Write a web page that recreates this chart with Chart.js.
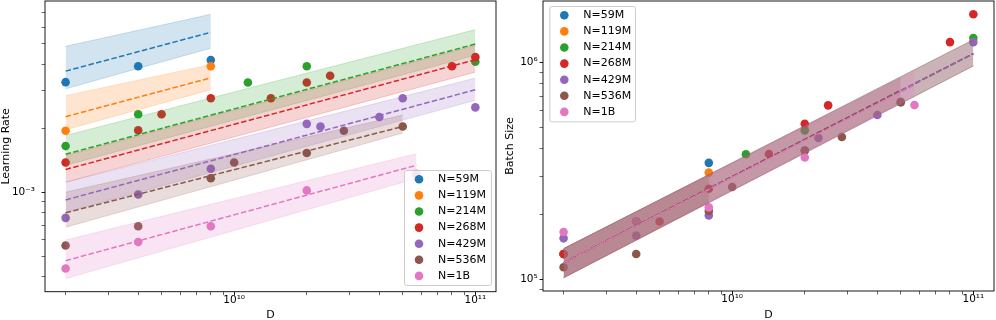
<!DOCTYPE html>
<html lang="en">
<head>
    <meta charset="UTF-8">
    <title>Learning rate and batch size vs D</title>
    <script src="https://cdn.jsdelivr.net/npm/chart.js"></script>
    <style>
        body { margin: 0; background: #fff; }
        #wrap { position: relative; width: 996px; height: 320px; }
        canvas { position: absolute; top: 0; }
        #lrChart { left: 0; }
        #bsChart { left: 498px; }
    </style>
</head>
<body>
    <div id="wrap">
        <canvas id="lrChart" width="498" height="320"></canvas>
        <canvas id="bsChart" width="498" height="320"></canvas>
    </div>

    <script>
        const seriesNames = ['N=59M', 'N=119M', 'N=214M', 'N=268M', 'N=429M', 'N=536M', 'N=1B'];
        const seriesColors = ['#1f77b4', '#ff7f0e', '#2ca02c', '#d62728', '#9467bd', '#8c564b', '#e377c2'];

        // token count D of every run, one list per model size
        const runD = [
            [2e9, 4e9, 8e9],
            [2e9, 8e9],
            [2e9, 4e9, 1.14e10, 2e10, 1e11],
            [2e9, 4e9, 5e9, 8e9, 1.42e10, 2e10, 2.5e10, 8e10, 1e11],
            [2e9, 4e9, 8e9, 2e10, 2.28e10, 4e10, 5e10, 1e11],
            [2e9, 4e9, 8e9, 1e10, 2e10, 2.85e10, 5e10],
            [2e9, 4e9, 8e9, 2e10, 5.7e10]
        ];
        const runLR = [
            [3.30e-3, 3.92e-3, 4.20e-3],
            [1.95e-3, 3.92e-3],
            [1.65e-3, 2.33e-3, 3.29e-3, 3.92e-3, 4.12e-3],
            [1.38e-3, 1.96e-3, 2.33e-3, 2.77e-3, 2.77e-3, 3.29e-3, 3.54e-3, 3.92e-3, 4.33e-3],
            [0.757e-3, 0.976e-3, 1.29e-3, 2.10e-3, 2.04e-3, 2.26e-3, 2.77e-3, 2.51e-3],
            [0.561e-3, 0.691e-3, 1.164e-3, 1.38e-3, 1.53e-3, 1.95e-3, 2.04e-3],
            [0.437e-3, 0.583e-3, 0.691e-3, 1.02e-3, 1.22e-3]
        ];
        const runBS = [
            [1.31e5, 1.85e5, 3.45e5],
            [1.31e5, 3.11e5],
            [1.31e5, 1.85e5, 3.78e5, 4.87e5, 1.297e6],
            [1.31e5, 1.85e5, 1.85e5, 2.62e5, 3.79e5, 5.22e5, 6.35e5, 1.243e6, 1.672e6],
            [1.548e5, 1.593e5, 1.975e5, 3.93e5, 4.49e5, 5.73e5, 6.57e5, 1.243e6],
            [1.139e5, 1.31e5, 2.07e5, 2.67e5, 3.93e5, 4.54e5, 6.57e5],
            [1.656e5, 1.853e5, 2.15e5, 3.65e5, 6.37e5]
        ];

        // fitted power laws: D at both ends, fit value and band edges there
        const fitD = [[2e9, 8e9], [2e9, 8e9], [2e9, 1e11], [2e9, 1e11], [2e9, 1e11], [2e9, 5e10], [2e9, 5.7e10]];
        const lrFit = [[3.72e-3, 5.67e-3], [2.27e-3, 3.46e-3], [1.51e-3, 4.99e-3], [1.28e-3, 4.21e-3], [0.92e-3, 3.04e-3], [0.80e-3, 2.04e-3], [0.476e-3, 1.34e-3]];
        const lrHigh = [[4.87e-3, 6.89e-3], [2.85e-3, 3.99e-3], [1.85e-3, 5.84e-3], [1.49e-3, 4.92e-3], [1.115e-3, 3.45e-3], [1.0e-3, 2.31e-3], [0.596e-3, 1.52e-3]];
        const lrLow = [[3.07e-3, 4.77e-3], [1.97e-3, 3.04e-3], [1.34e-3, 4.42e-3], [1.115e-3, 3.68e-3], [0.805e-3, 2.71e-3], [0.684e-3, 1.90e-3], [0.392e-3, 1.16e-3]];
        const bsFit = [[1.193e5, 2.63e5], [1.193e5, 2.63e5], [1.193e5, 1.10e6], [1.193e5, 1.10e6], [1.193e5, 1.10e6], [1.193e5, 7.46e5], [1.193e5, 7.87e5]];
        const bsHigh = [[1.388e5, 3.03e5], [1.388e5, 3.03e5], [1.388e5, 1.275e6], [1.388e5, 1.275e6], [1.388e5, 1.275e6], [1.388e5, 8.5e5], [1.388e5, 9.1e5]];
        const bsLow = [[1.018e5, 2.27e5], [1.018e5, 2.27e5], [1.018e5, 9.65e5], [1.018e5, 9.65e5], [1.018e5, 9.65e5], [1.018e5, 6.55e5], [1.018e5, 6.97e5]];

        // axes
        const dRange = [1.643e9, 1.218e11];
        const lrRange = [3.40e-4, 7.96e-3];
        const bsRange = [8.85e4, 1.923e6];
        const dTicks = [2e9, 3e9, 4e9, 5e9, 6e9, 7e9, 8e9, 9e9, 1e10, 2e10, 3e10, 4e10, 5e10, 6e10, 7e10, 8e10, 9e10, 1e11];
        const dMajor = [1e10, 1e11];
        const dMajorText = ['10¹⁰', '10¹¹'];
        const lrTicks = [4e-4, 5e-4, 6e-4, 7e-4, 8e-4, 9e-4, 1e-3, 2e-3, 3e-3, 4e-3, 5e-3, 6e-3, 7e-3];
        const lrMajor = [1e-3];
        const lrMajorText = ['10⁻³'];
        const bsTicks = [9e4, 1e5, 2e5, 3e5, 4e5, 5e5, 6e5, 7e5, 8e5, 9e5, 1e6];
        const bsMajor = [1e5, 1e6];
        const bsMajorText = ['10⁵', '10⁶'];

        Chart.defaults.font.family = '"DejaVu Sans", sans-serif';
        Chart.defaults.color = '#000';

        function fade(hex, a) {
            const n = parseInt(hex.slice(1), 16);
            return `rgba(${n >> 16}, ${(n >> 8) & 255}, ${n & 255}, ${a})`;
        }
        const pts = (xs, ys) => xs.map((x, k) => ({x: x, y: ys[k]}));

        function buildDatasets(vals, fit, high, low) {
            const ds = [];
            // matplotlib order: all points, then all bands, then the dashed fits on top
            seriesNames.forEach((name, i) => ds.push({
                type: 'scatter', label: name, data: pts(runD[i], vals[i]),
                backgroundColor: seriesColors[i], pointRadius: 4.3, borderWidth: 0, order: 100 - i
            }));
            seriesNames.forEach((name, i) => {
                ds.push({
                    type: 'line', label: name + ' band', data: pts(fitD[i], high[i]),
                    fill: '+1', backgroundColor: fade(seriesColors[i], 0.2),
                    borderColor: fade(seriesColors[i], 0.2), borderWidth: 1, pointRadius: 0, order: 80 - 2 * i
                });
                ds.push({
                    type: 'line', label: name + ' band low', data: pts(fitD[i], low[i]),
                    fill: false, borderColor: fade(seriesColors[i], 0.2), borderWidth: 1, pointRadius: 0, order: 79 - 2 * i
                });
            });
            seriesNames.forEach((name, i) => ds.push({
                type: 'line', label: name + ' fit', data: pts(fitD[i], fit[i]),
                fill: false, borderColor: seriesColors[i], borderWidth: 1.5, borderDash: [5.5, 2.4],
                pointRadius: 0, order: 50 - i
            }));
            return ds;
        }

        function logAxis(range, ticks, majors, texts, title, o) {
            return {
                type: 'logarithmic', min: range[0], max: range[1], bounds: 'data',
                afterBuildTicks: s => { s.ticks = ticks.map(v => ({value: v})); },
                afterFit: s => {
                    o.fit(s);
                    s.paddingLeft = s.paddingRight = s.paddingTop = s.paddingBottom = 0;
                },
                ticks: {
                    autoSkip: false, maxRotation: 0, minRotation: 0, padding: o.pad,
                    font: {size: 10.5, lineHeight: 1},
                    callback: v => { const k = majors.indexOf(v); return k < 0 ? '' : texts[k]; }
                },
                grid: {
                    display: true, drawOnChartArea: false, drawTicks: true, tickLength: 3.5, tickColor: '#000',
                    tickWidth: c => (c.tick && majors.includes(c.tick.value)) ? 0.9 : 0.6
                },
                border: {display: false},
                title: {display: true, text: title, font: {size: 11, lineHeight: 1}, padding: o.titlePad}
            };
        }

        const framePlugin = {
            id: 'frame',
            afterDatasetsDraw(chart) {
                const {ctx, chartArea: a} = chart;
                ctx.save();
                ctx.strokeStyle = '#000';
                ctx.lineWidth = 0.9;
                ctx.strokeRect(a.left, a.top, a.right - a.left, a.bottom - a.top);
                ctx.restore();
            }
        };

        const boxLegend = {
            id: 'boxLegend',
            afterDraw(chart, args, o) {
                const ctx = chart.ctx;
                ctx.save();
                ctx.beginPath();
                ctx.roundRect(o.left + 0.5, o.top + 0.5, o.width, o.height, 2);
                ctx.fillStyle = 'rgba(255,255,255,0.8)';
                ctx.fill();
                ctx.strokeStyle = '#cccccc';
                ctx.lineWidth = 1;
                ctx.stroke();
                ctx.font = '11px "DejaVu Sans"';
                ctx.textBaseline = 'middle';
                chart.data.datasets.filter(d => d.type === 'scatter').forEach((d, i) => {
                    const y = o.top + o.first + i * o.step;
                    ctx.beginPath();
                    ctx.arc(o.left + 15, y, 4.3, 0, Math.PI * 2);
                    ctx.fillStyle = d.backgroundColor;
                    ctx.fill();
                    ctx.fillStyle = '#000';
                    ctx.fillText(d.label, o.left + 34, y);
                });
                ctx.restore();
            }
        };

        function makeChart(id, vals, fit, high, low, yAxis, legendBox, xHeight) {
            return new Chart(document.getElementById(id), {
                type: 'scatter',
                data: {datasets: buildDatasets(vals, fit, high, low)},
                options: {
                    responsive: false,
                    animation: false,
                    events: [],
                    layout: {autoPadding: false, padding: {left: 0, right: 2, top: 1, bottom: 0}},
                    plugins: {legend: {display: false}, tooltip: {enabled: false}, boxLegend: legendBox},
                    scales: {
                        x: logAxis(dRange, dTicks, dMajor, dMajorText, 'D', {
                            pad: 0, titlePad: {top: 0, bottom: -0.5}, fit: s => { s.height = xHeight; }
                        }),
                        y: yAxis
                    }
                },
                plugins: [framePlugin, boxLegend]
            });
        }

        makeChart('lrChart', runLR, lrFit, lrHigh, lrLow,
            logAxis(lrRange, lrTicks, lrMajor, lrMajorText, 'Learning Rate', {
                pad: 6.5, titlePad: {top: 0.7, bottom: 0}, fit: s => { s.width = 45; }
            }),
            {left: 404, top: 170, width: 87, height: 115, first: 9.3, step: 16.1}, 28.3);

        makeChart('bsChart', runBS, bsFit, bsHigh, bsLow,
            logAxis(bsRange, bsTicks, bsMajor, bsMajorText, 'Batch Size', {
                pad: 1.8, titlePad: {top: 6.5, bottom: 0}, fit: s => { s.width = 45; }
            }),
            {left: 51.3, top: 6, width: 85.7, height: 115.3, first: 9.3, step: 16.1}, 29);
    </script>
</body>
</html>
